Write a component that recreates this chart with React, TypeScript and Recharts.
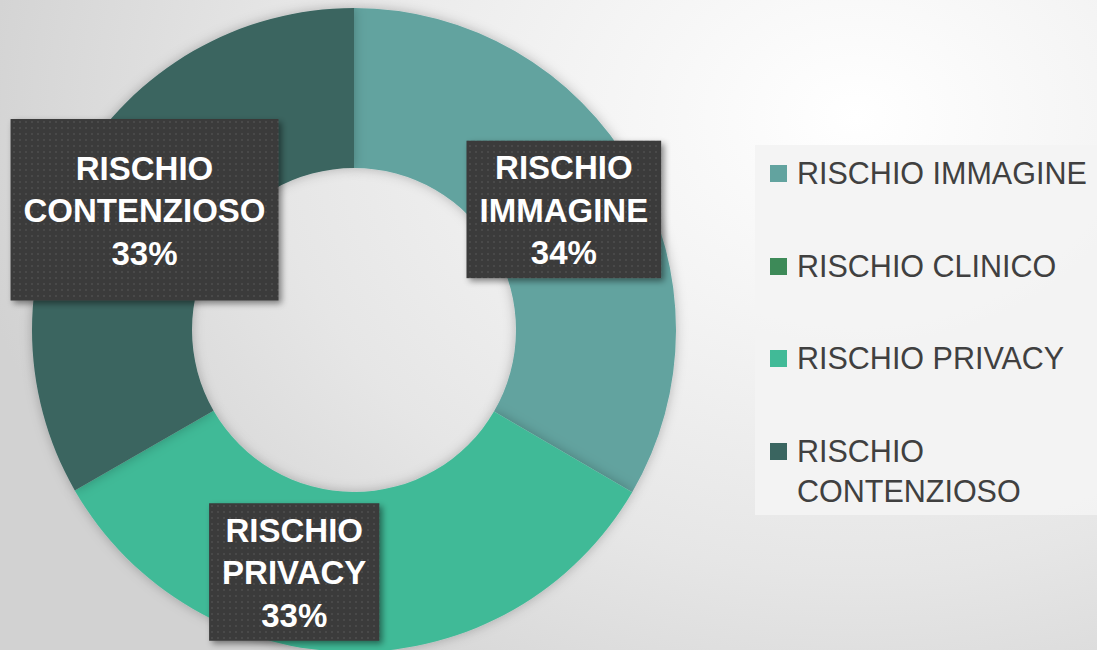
import { PieChart, Pie, Cell, Legend } from "recharts";

const categories = ["RISCHIO IMMAGINE", "RISCHIO CLINICO", "RISCHIO PRIVACY", "RISCHIO CONTENZIOSO"];
// slice sizes as drawn (three equal thirds, clinico empty)
const shares = [33.4, 0, 33.3, 33.3];
// percentages as printed on the data labels
const printedPct = ["34%", "", "33%", "33%"];
const colors = ["#62A39F", "#3D8A58", "#41BA97", "#3A6560"];

const data = categories.map((name, i) => ({ name, value: shares[i], pct: printedPct[i] }));

// label boxes were nudged by hand in the original deck
const labelShift: Record<string, [number, number]> = {
  "RISCHIO PRIVACY": [-59, 0],
  "RISCHIO CONTENZIOSO": [0, 1],
};
const labelPadY: Record<string, number> = {
  "RISCHIO CONTENZIOSO": 27,
};

const RAD = Math.PI / 180;
const LABEL_FONT = "'Liberation Sans', Arial, sans-serif";

function measure(text: string, font: string) {
  const ctx = document.createElement("canvas").getContext("2d");
  if (!ctx) return text.length * 18;
  ctx.font = font;
  return ctx.measureText(text).width;
}

function renderLabel(props: any) {
  const { cx, cy, midAngle, innerRadius, outerRadius, name, value, payload } = props;
  if (!value) return null;
  const r = (innerRadius + outerRadius) / 2;
  const shift = labelShift[name] || [0, 0];
  const x = cx + r * Math.cos(-midAngle * RAD) + shift[0];
  const y = cy + r * Math.sin(-midAngle * RAD) + shift[1];
  const lines = [...name.split(" "), payload?.pct ?? ""];
  const w = Math.max(...lines.map((l: string) => measure(l, `bold 33px ${LABEL_FONT}`))) + 26;
  const lh = 42.5;
  const padY = labelPadY[name] ?? 5;
  const h = lines.length * lh + padY * 2;
  return (
    <g>
      <rect
        x={x - w / 2}
        y={y - h / 2}
        width={w}
        height={h}
        fill="url(#dots)"
        filter="url(#boxShadow)"
      />
      {lines.map((l: string, i: number) => (
        <text
          key={i}
          x={x}
          y={y + 1 - ((lines.length - 1) * lh) / 2 + i * lh}
          textAnchor="middle"
          dominantBaseline="central"
          fill="#ffffff"
          fontSize={33}
          fontWeight="bold"
          fontFamily={LABEL_FONT}
        >
          {l}
        </text>
      ))}
    </g>
  );
}

function LegendBox() {
  return (
    <div
      style={{
        width: 342,
        height: 370,
        background: "rgba(243,243,243,0.92)",
        boxSizing: "border-box",
        padding: "8px 0 0 15px",
        fontFamily: LABEL_FONT,
        fontSize: 30.5,
        color: "#404040",
      }}
    >
      {categories.map((c, i) => (
        <div key={c} style={{ display: "flex", alignItems: "flex-start", marginBottom: 52.5 }}>
          <div
            style={{
              width: 17,
              height: 17,
              background: colors[i],
              marginTop: 12,
              marginRight: 10,
              flexShrink: 0,
            }}
          />
          <div
            style={{
              width: 300,
              lineHeight: "40px",
              whiteSpace: i === 3 ? "normal" : "nowrap",
              wordSpacing: i === 3 ? 200 : 0,
            }}
          >
            {c}
          </div>
        </div>
      ))}
    </div>
  );
}

export default function App() {
  return (
    <div
      style={{
        position: "absolute",
        left: 0,
        top: 0,
        width: 1097,
        height: 650,
        overflow: "hidden",
        background:
          "radial-gradient(ellipse 900px 700px at 78% 18%, #ffffff 0%, #f4f4f4 30%, #e6e6e6 65%, #d2d2d2 100%)",
      }}
    >
      <svg width={0} height={0} style={{ position: "absolute" }}>
        <defs>
          <pattern id="dots" width={6} height={6} patternUnits="userSpaceOnUse">
            <rect width={6} height={6} fill="#3a3a3a" />
            <rect x={1} y={1} width={2} height={2} fill="#4a4a4a" />
          </pattern>
          <filter id="boxShadow" x="-20%" y="-20%" width="140%" height="140%">
            <feDropShadow dx={3} dy={3} stdDeviation={3} floodColor="#000" floodOpacity={0.45} />
          </filter>
          <filter id="ringShadow" x="-20%" y="-20%" width="140%" height="140%">
            <feDropShadow dx={0} dy={0} stdDeviation={6} floodColor="#000" floodOpacity={0.25} />
          </filter>
        </defs>
      </svg>
      <PieChart width={1097} height={650} margin={{ top: 0, right: 0, bottom: 0, left: 0 }}>
        <Pie
          data={data}
          dataKey="value"
          nameKey="name"
          cx={354}
          cy={330}
          innerRadius={162}
          outerRadius={322}
          startAngle={90}
          endAngle={-270}
          stroke="none"
          label={renderLabel}
          labelLine={false}
          isAnimationActive={false}
          style={{ filter: "url(#ringShadow)" }}
        >
          {data.map((d, i) => (
            <Cell key={d.name} fill={colors[i]} />
          ))}
        </Pie>
        <Legend
          content={() => <LegendBox />}
          wrapperStyle={{ position: "absolute", left: 755, top: 145, width: 342, height: 370 }}
        />
      </PieChart>
    </div>
  );
}
